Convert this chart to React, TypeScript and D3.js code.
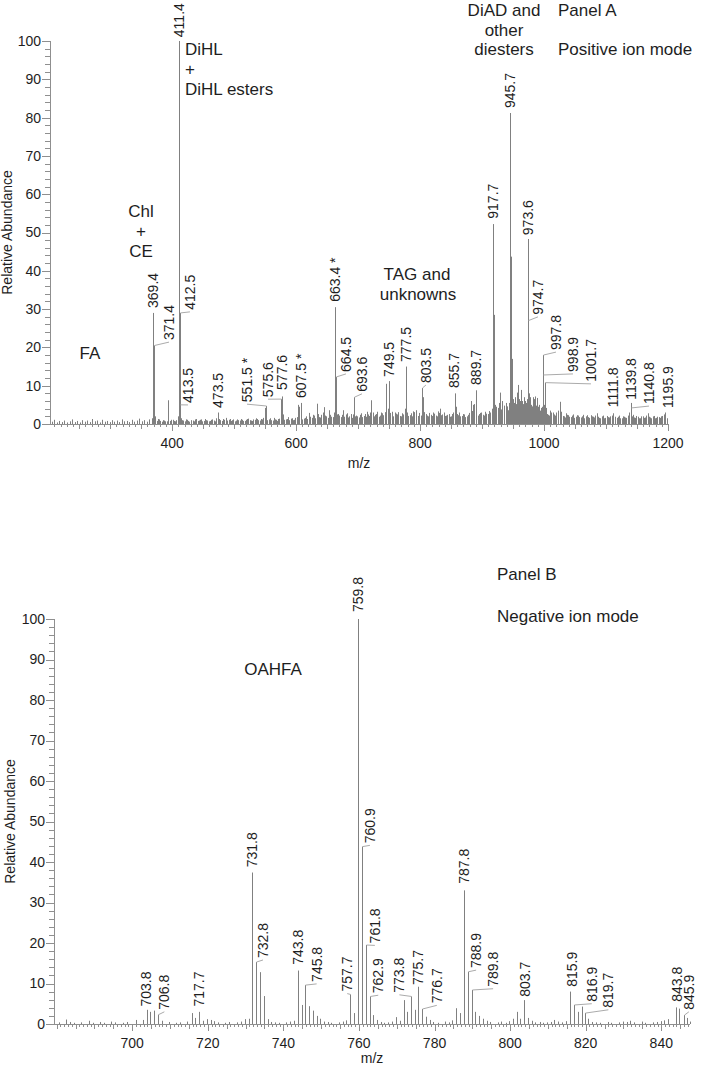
import React from "react";
import * as d3 from "d3";

// ---------- Panel A (positive ion mode) ----------
const peaksA: [number, number][] = [
  [367.4, 1.5], [369.4, 29], [370.4, 6], [371.4, 20.5], [372.4, 2], [393.4, 6.2],
  [409.4, 2], [410.4, 4.7], [411.4, 100], [412.5, 29], [413.5, 5], [414.5, 1.5],
  [471.5, 1.5], [473.5, 3], [549.5, 4.2], [551.5, 4.7], [553.5, 1],
  [575.6, 6.5], [577.6, 7.2], [579.6, 2.5], [603.5, 5], [605.5, 4.5], [607.5, 5.5],
  [661.4, 3], [663.4, 30.5], [664.5, 12.3], [665.5, 2.5], [691.6, 2.5], [693.6, 7], [695.6, 2],
  [749.5, 11.2], [777.5, 15], [803.5, 9.4], [855.7, 8], [889.7, 8.8],
  [917.7, 52.2], [945.7, 81.2], [973.6, 48.3], [974.7, 27],
  [997.8, 18], [998.9, 12.8], [1001.7, 10.8], [1111.8, 2.8], [1139.8, 5.5], [1140.8, 4.2], [1195.9, 3],
];

const minorA: [number, number][] = [
  [206, 0.6], [210, 1.1], [214, 0.4], [218, 0.8], [222, 0.5], [226, 0.9], [231, 0.4], [235, 0.7],
  [239, 1.2], [243, 0.5], [247, 0.8], [251, 0.4], [255, 1.0], [259, 0.6], [263, 0.9], [267, 0.5],
  [271, 1.3], [275, 0.7], [279, 0.9], [283, 0.4], [287, 1.1], [291, 0.6], [295, 0.8], [299, 0.5],
  [303, 1.0], [307, 0.6], [311, 0.9], [315, 0.5], [319, 1.2], [323, 0.7], [327, 0.8], [331, 0.5],
  [335, 1.1], [339, 0.6], [343, 0.9], [347, 1.4], [351, 0.7], [355, 1.0], [359, 0.6], [363, 1.2],
  [377, 1.3], [381, 0.8], [385, 1.0], [389, 0.7], [399, 1.1], [403, 0.8], [407, 1.0],
  [418, 0.9], [422, 1.2], [426, 0.8], [431, 1.0], [435, 0.7], [439, 1.3], [443, 0.9], [447, 1.2],
  [451, 0.8], [455, 1.0], [459, 0.7], [463, 1.1], [467, 0.9], [478, 1.0], [482, 1.3], [487, 1.6],
  [491, 1.1], [495, 0.8], [499, 1.2], [503, 0.9], [507, 1.0], [511, 1.3], [515, 0.8], [519, 1.1],
  [523, 1.4], [527, 0.9], [531, 1.2], [535, 1.5], [539, 1.0], [543, 1.3], [547, 1.6], [556, 1.2],
  [560, 1.0], [564, 1.6], [568, 1.1], [571, 1.3], [583, 1.2], [587, 1.8], [591, 1.4], [595, 1.0],
  [599, 1.6], [612, 1.4], [616, 2.0], [621, 2.9], [625, 1.6], [629, 2.2], [633, 5.3], [637, 1.8],
  [641, 2.4], [645, 4.4], [649, 2.0], [653, 3.6], [657, 1.9], [669, 2.2], [672, 1.8], [676, 3.6],
  [680, 2.5], [684, 1.7], [688, 2.6], [699, 2.0], [703, 2.4], [707, 1.8], [711, 2.6], [714, 3.2],
  [717, 2.1], [719.6, 3.0], [721.6, 6.2], [723.6, 3.0], [727, 2.4], [731, 3.2], [735, 2.2], [739, 2.8],
  [743, 3.1], [745.5, 10.5], [747.5, 4], [752, 2.9], [755, 2.2], [759, 3.0], [763, 2.5], [767, 2.1],
  [771, 2.8], [775.5, 4.0], [779.5, 3.0], [783, 2.3], [787, 2.0], [791, 3.1], [794, 3.6], [797, 2.1],
  [801.5, 2.2], [805.5, 7.0], [809, 2.6], [813, 2.0], [817, 2.4], [821, 3.0], [825, 2.2], [829, 3.3],
  [832, 4.0], [836, 2.5], [840, 2.1], [844, 2.4], [848, 1.9], [851, 2.6], [853.7, 3.0], [857.7, 4.5],
  [861, 2.3], [865, 2.0], [869, 2.6], [873, 1.8], [877, 2.4], [881.6, 6.0], [885.7, 5.0], [887.7, 5.2],
  [893, 2.2], [897, 2.9], [901, 2.4], [905, 3.2], [909, 2.6], [913, 3.0], [915.7, 4.0], [918.7, 28.5],
  [919.7, 8], [922, 3.1], [925, 4.2], [928.9, 8.2], [931.7, 5.0], [935, 4.0], [938, 3.2], [941, 4.6],
  [943.7, 5.5], [946.7, 43.7], [947.7, 17], [949.7, 6.5], [952, 4.0], [955, 5.2], [958, 10.2],
  [960.5, 6], [962.3, 8.9], [965, 6.0], [967.6, 7.0], [970, 4.5], [971.6, 5.5], [975.7, 8],
  [977.6, 6.5], [979, 5], [981.6, 7.0], [984, 6.5], [986, 5.0], [988, 6.8], [991, 4.5], [993, 3.5],
  [995.8, 4.2], [999.9, 5.0], [1003.7, 3.0], [1006, 2.4], [1009, 3.5], [1012, 2.7], [1014, 3.0],
  [1017, 2.2], [1020, 2.6], [1023, 3.5], [1025.7, 5.8], [1028, 2.4], [1032, 2.0], [1035, 2.8],
  [1039, 2.3], [1043, 1.8], [1047, 2.5], [1051, 1.9], [1055, 2.2], [1059, 1.7], [1063, 2.4],
  [1067, 2.0], [1071, 1.8], [1075, 2.3], [1079, 1.9], [1085, 2.8], [1089, 1.6], [1093, 2.0],
  [1097, 1.5], [1101, 2.1], [1105, 1.7], [1109.8, 2.2], [1113.8, 1.9], [1117, 1.6], [1121, 2.2],
  [1125, 1.5], [1129, 1.9], [1133, 1.6], [1137.8, 3.0], [1141.8, 2.0], [1145, 1.7], [1149, 2.1],
  [1153, 1.5], [1157, 2.0], [1161, 1.6], [1165, 2.2], [1167.7, 2.8], [1171, 1.7], [1175, 2.0],
  [1179, 1.5], [1183, 1.9], [1187, 1.6], [1191, 2.1], [1193.9, 2.5], [1197.9, 1.5],
];

const baselineA: [number, number][] = [
  [375, 0.8], [379, 1.2], [383, 0.6], [387, 0.9], [391, 0.7], [397, 0.8], [401, 1.1],
  [405, 0.7], [416, 1.0], [420, 0.7], [424, 1.1], [428, 0.6], [433, 0.9], [437, 1.2], [441, 0.8],
  [445, 1.1], [449, 0.7], [453, 1.3], [457, 0.9], [461, 0.8], [465, 1.2], [469, 0.7], [476, 1.3],
  [480, 0.8], [484, 1.1], [489, 0.9], [493, 1.3], [497, 1.0], [501, 0.7], [505, 1.2], [509, 0.9],
  [513, 1.1], [517, 0.8], [521, 1.3], [525, 1.0], [529, 0.8], [533, 1.1], [537, 1.3], [541, 0.9],
  [545, 1.2], [558, 1.5], [562, 0.9], [566, 1.2], [570, 0.8], [573, 1.4], [581, 1.1], [585, 1.3],
  [589, 1.0], [593, 1.5], [597, 1.1], [601, 1.8], [610, 1.2], [614, 1.6], [618, 1.3], [623, 1.9],
  [627, 2.4], [631, 1.5], [635, 2.6], [639, 1.7], [643, 3.0], [647, 2.2], [651, 1.6], [655, 2.4],
  [659, 1.8], [667, 2.6], [670, 1.5], [674, 2.4], [678, 1.9], [682, 2.8], [686, 2.0], [690, 1.6],
  [697, 2.2], [701, 1.7], [705, 2.8], [709, 2.1], [713, 1.9], [716, 2.5], [725, 2.0], [729, 2.6],
  [733, 1.9], [737, 3.0], [741, 2.3], [751, 2.4], [754, 3.2], [757, 2.0], [761, 2.7], [765, 3.1],
  [769, 2.0], [773, 2.5], [781, 2.1], [785, 2.8], [789, 3.3], [793, 2.2], [799, 2.9], [807, 3.1],
  [811, 2.2], [815, 2.9], [819, 2.1], [823, 2.7], [827, 2.0], [831, 2.9], [834, 2.3], [838, 3.0],
  [842, 2.2], [846, 2.6], [850, 2.0], [859, 2.6], [863, 3.0], [867, 2.1], [871, 2.5], [875, 2.0],
  [879, 2.9], [883, 3.4], [891, 4.2], [895, 2.6], [899, 3.0], [903, 2.2], [907, 2.7], [911, 3.4],
  [920.7, 5.0], [923, 4.5], [927, 5.5], [930, 3.8], [933, 6.0], [936, 4.8], [939, 5.5], [942, 3.6],
  [944.7, 6.0], [948.7, 9.0], [951, 5.5], [953, 7.0], [956, 8.2], [959, 6.5], [961, 5.8], [963.5, 7.5],
  [966, 5.2], [969, 6.0], [972.6, 6.5], [976.7, 5.0], [978, 7.0], [980, 4.6], [983, 5.5], [985, 7.2],
  [987, 4.8], [989, 5.8], [990, 4.0], [992, 5.0], [994, 3.2], [996.8, 4.5], [1000.8, 6.0], [1002.7, 4.2],
  [1005, 2.6], [1008, 2.2], [1011, 3.0], [1016, 2.5], [1019, 3.0], [1022, 2.1], [1027, 3.2], [1030, 2.1],
  [1034, 1.7], [1037, 2.4], [1041, 1.9], [1045, 2.2], [1049, 1.6], [1053, 2.3], [1057, 1.8], [1061, 2.0],
  [1065, 1.5], [1069, 2.3], [1073, 1.6], [1077, 2.0], [1081, 1.7], [1083, 2.2], [1087, 1.9], [1091, 1.5],
  [1095, 2.2], [1099, 1.6], [1103, 1.8], [1107, 2.0], [1115, 1.6], [1119, 1.9], [1123, 1.5], [1127, 2.0],
  [1131, 1.7], [1135, 2.2], [1143, 2.4], [1147, 1.6], [1151, 1.9], [1155, 1.5], [1159, 2.0], [1163, 1.7],
  [1169, 1.9], [1173, 1.5], [1177, 2.1], [1181, 1.6], [1185, 1.8], [1189, 2.0], [1195, 1.7], [1199, 1.2],
];

// [label text, peak m/z, label m/z, label base abundance]
const labelsA: [string, number, number, number][] = [
  ["369.4", 369.4, 369.4, 30.3], ["371.4", 371.4, 395, 21.9], ["411.4", 411.4, 411.4, 101],
  ["412.5", 412.5, 428.8, 29.8], ["413.5", 413.5, 425.6, 5.5], ["473.5", 473.5, 473.5, 4.2],
  ["551.5 *", 551.5, 520.8, 5.7], ["575.6", 575.6, 554.7, 7.0], ["577.6", 577.6, 577.6, 8.9],
  ["607.5 *", 607.5, 607.5, 6.8], ["663.4 *", 663.4, 663.4, 31.9], ["664.5", 664.5, 680.5, 13.6],
  ["693.6", 693.6, 706.3, 8.4], ["749.5", 749.5, 749.5, 12.3], ["777.5", 777.5, 777.5, 16.2],
  ["803.5", 803.5, 809.5, 10.7], ["855.7", 855.7, 855.7, 9.4], ["889.7", 889.7, 889.7, 10.2],
  ["917.7", 917.7, 917.7, 53.6], ["945.7", 945.7, 945.7, 82.5], ["973.6", 973.6, 973.6, 49.3],
  ["974.7", 974.7, 990.2, 28.5], ["997.8", 997.8, 1019.3, 19.3], ["998.9", 998.9, 1046.7, 13.6],
  ["1001.7", 1001.7, 1075.7, 11], ["1111.8", 1111.8, 1111.8, 4.4], ["1139.8", 1139.8, 1139.8, 6.3],
  ["1140.8", 1140.8, 1169.3, 5.2], ["1195.9", 1195.9, 1199.9, 4.2],
];

// ---------- Panel B (negative ion mode) ----------
const peaksB: [number, number][] = [
  [682.6, 1.1], [688.6, 0.8], [694.4, 0.6], [700.9, 1.0], [702.8, 1.0], [703.8, 3.5], [704.8, 3.0],
  [705.8, 3.3], [706.8, 2.3], [707.8, 0.8], [715.7, 2.7], [716.7, 1.5], [717.7, 3], [718.7, 0.8],
  [719.8, 1.2], [720.8, 1], [729.8, 1.2], [730.8, 1.3], [731.8, 37.4], [732.8, 15.3], [733.8, 12.8],
  [734.8, 6.9], [735.8, 1.2], [736.8, 0.5], [743.8, 13.2], [744.8, 4.7], [745.8, 9.6], [746.8, 4.4],
  [747.8, 3.3], [748.8, 2], [749.8, 1.3], [750.8, 0.6], [757.7, 7.3], [758.7, 2.7], [759.8, 100],
  [760.9, 43.8], [761.8, 19.5], [762.9, 6.8], [763.8, 2.2], [764.8, 1], [769.8, 1.7], [770.8, 0.8],
  [771.8, 5.9], [772.8, 3], [773.8, 6.8], [774.8, 3.5], [775.7, 9.2], [776.7, 3.7], [777.7, 1.8],
  [778.7, 1], [785.7, 3.9], [786.7, 2.7], [787.8, 33], [788.9, 12.9], [789.8, 8.4], [790.8, 3],
  [791.8, 2], [792.8, 1.3], [793.8, 0.8], [800.7, 1.3], [801.7, 3], [802.7, 1.3], [803.7, 5.9],
  [804.7, 1.5], [805.7, 0.8], [815.9, 8], [816.9, 4.7], [817.9, 3], [818.9, 4.3], [819.7, 2.7],
  [820.7, 1.3], [821.7, 0.5], [841.8, 1.2], [843.8, 4.1], [844.8, 3.8], [845.9, 2.2], [846.9, 1.5],
];

const minorB: [number, number][] = [
  [680.5, 0.4], [683.6, 0.5], [684.6, 0.3], [686.5, 0.4], [689.6, 0.3], [691.5, 0.5], [692.6, 0.3],
  [695.5, 0.4], [697.6, 0.3], [698.5, 0.5], [709.8, 0.5], [711.5, 0.3], [712.7, 0.4], [714.6, 0.6],
  [721.7, 0.7], [722.7, 0.4], [724.6, 0.3], [725.7, 0.5], [727.6, 0.4], [728.7, 0.6], [737.8, 0.4],
  [738.8, 0.3], [740.7, 0.4], [741.7, 0.6], [742.8, 0.8], [751.8, 0.5], [752.7, 0.3], [754.6, 0.4],
  [755.7, 0.6], [756.7, 0.9], [765.8, 0.5], [766.7, 0.3], [767.8, 0.4], [768.8, 0.6], [779.7, 0.5],
  [780.8, 0.3], [782.7, 0.6], [783.8, 0.4], [784.7, 0.9], [794.8, 0.5], [796.8, 0.4], [797.7, 0.6],
  [798.8, 0.3], [799.7, 0.7], [806.7, 0.4], [807.8, 0.5], [808.7, 0.3], [809.8, 0.4], [810.7, 0.5],
  [811.7, 1.0], [812.7, 0.6], [813.8, 0.4], [814.8, 0.7], [822.8, 0.4], [823.7, 0.3], [825.8, 0.5],
  [826.7, 0.3], [828.8, 0.4], [829.8, 0.6], [830.8, 0.5], [831.8, 0.8], [832.8, 0.4], [834.8, 0.6],
  [835.8, 0.3], [837.8, 0.4], [838.8, 0.5], [839.8, 0.7], [840.8, 0.9], [847.5, 0.6],
];

const labelsB: [string, number, number, number][] = [
  ["703.8", 703.8, 703.8, 4.3], ["706.8", 706.8, 708.5, 3.5], ["717.7", 717.7, 717.7, 4.3],
  ["731.8", 731.8, 731.8, 38.7], ["732.8", 732.8, 734.6, 16.3], ["743.8", 743.8, 743.8, 14.6],
  ["745.8", 745.8, 748.8, 10.4], ["757.7", 757.7, 756.9, 8.0], ["759.8", 759.8, 759.8, 101.7],
  ["760.9", 760.9, 762.9, 44.6], ["761.8", 761.8, 764.2, 19.9], ["762.9", 762.9, 765.1, 7.6],
  ["773.8", 773.8, 770.7, 7.7], ["775.7", 775.7, 775.7, 9.6], ["776.7", 776.7, 780.6, 5.1],
  ["787.8", 787.8, 787.8, 34.6], ["788.9", 788.9, 791, 13.8], ["789.8", 789.8, 795.5, 9.2],
  ["803.7", 803.7, 803.9, 6.7], ["815.9", 815.9, 816.3, 9.2], ["816.9", 816.9, 821.6, 5.5],
  ["819.7", 819.7, 826, 4.0], ["843.8", 843.8, 844.2, 5.5], ["845.9", 845.9, 847.3, 3.5],
];

const yTicks = [0, 10, 20, 30, 40, 50, 60, 70, 80, 90, 100];
const xTicksA = [400, 600, 800, 1000, 1200];
const xTicksB = [700, 720, 740, 760, 780, 800, 820, 840];

const FONT = "Arial, 'Liberation Sans', Helvetica, sans-serif";
const PEAK = "#808080";
const AXIS = "#8f8f8f";
const TEXT = "#1e1e1e";
const LEADER = "#ababab";

type PanelProps = {
  x: d3.ScaleLinear<number, number>;
  y: d3.ScaleLinear<number, number>;
  peaks: [number, number][];
  minor: [number, number][];
  labels: [string, number, number, number][];
  xTicks: number[];
  minorStep: number;
  midStep: number;
  xLabelY: number;
  mzY: number;
  yTitleX: number;
};

function Panel({ x, y, peaks, minor, labels, xTicks, minorStep, midStep, xLabelY, mzY, yTitleX }: PanelProps) {
  const [x0, x1] = x.domain();
  const [r0, r1] = x.range();
  const y0 = y(0);
  const all = [...minor, ...peaks];
  const heightOf = (mz: number) => {
    const p = peaks.find((d) => d[0] === mz);
    return p ? p[1] : 0;
  };
  const minorTicks: number[] = [];
  for (let v = Math.ceil(x0 / minorStep) * minorStep; v <= x1 + 1e-9; v += minorStep) minorTicks.push(+v.toFixed(4));
  const yMinor: number[] = [];
  for (let v = 0; v <= 100; v += 2) yMinor.push(v);
  const px = (v: number) => Math.round(x(v)) + 0.5;
  return (
    <g>
      {all.map(([mz, h], i) => (
        <line key={"p" + i} x1={px(mz)} x2={px(mz)} y1={y0} y2={y(h)} stroke={PEAK} strokeWidth={1} />
      ))}
      <line x1={r0 + 0.5} x2={r0 + 0.5} y1={y(100)} y2={y0} stroke={AXIS} />
      <line x1={r0} x2={r1} y1={y0 + 0.5} y2={y0 + 0.5} stroke={AXIS} />
      {yMinor.map((v) => (
        <line key={"ym" + v} x1={r0 - (v % 10 === 0 ? 8 : 5)} x2={r0} y1={Math.round(y(v)) + 0.5} y2={Math.round(y(v)) + 0.5} stroke={AXIS} />
      ))}
      {yTicks.map((v) => (
        <text key={"yt" + v} x={r0 - 9} y={y(v)} dy="0.35em" textAnchor="end" fontSize={14} fill={TEXT} fontFamily={FONT}>
          {v}
        </text>
      ))}
      {minorTicks.map((v) => {
        const isMajor = xTicks.includes(v);
        const isMid = Math.abs(v / midStep - Math.round(v / midStep)) < 1e-6;
        const len = isMajor ? 7 : isMid ? 5 : 3;
        return <line key={"xm" + v} x1={px(v)} x2={px(v)} y1={y0} y2={y0 + len} stroke={AXIS} />;
      })}
      {xTicks.map((v) => (
        <text key={"xt" + v} x={x(v)} y={xLabelY} textAnchor="middle" fontSize={14} fill={TEXT} fontFamily={FONT}>
          {v}
        </text>
      ))}
      <text x={(r0 + r1) / 2} y={mzY} textAnchor="middle" fontSize={14} fill={TEXT} fontFamily={FONT}>
        m/z
      </text>
      <text transform={`translate(${yTitleX},${(y(0) + y(100)) / 2}) rotate(-90)`} textAnchor="middle" fontSize={14} fill={TEXT} fontFamily={FONT}>
        Relative Abundance
      </text>
      {labels.map(([t, mz, lmz, lab], i) => {
        const ptx = px(mz);
        const pty = y(heightOf(mz));
        const lx = x(lmz);
        const ly = y(lab);
        const leader = Math.abs(lx - ptx) > 2.5;
        return (
          <g key={"l" + i}>
            {leader && <line x1={ptx} y1={pty} x2={lx} y2={ly + 2} stroke={LEADER} strokeWidth={1} />}
            <text transform={`translate(${lx},${ly}) rotate(-90)`} dy="0.35em" fontSize={14} fill={TEXT} fontFamily={FONT}>
              {t}
            </text>
          </g>
        );
      })}
    </g>
  );
}

export default function App() {
  const xA = d3.scaleLinear().domain([203, 1200]).range([50, 668]);
  const yA = d3.scaleLinear().domain([0, 100]).range([424, 41]);
  const xB = d3.scaleLinear().domain([679.3, 847.6]).range([54, 690]);
  const yB = d3.scaleLinear().domain([0, 100]).range([1024, 619]);
  const note = { fontSize: 17, fill: TEXT, fontFamily: FONT } as const;
  return (
    <div style={{ position: "absolute", left: 0, top: 0 }}>
      <svg width={702} height={1067} style={{ display: "block", background: "#fff" }}>
        <rect width={702} height={1067} fill="#fff" />
        <Panel x={xA} y={yA} peaks={peaksA} minor={[...minorA, ...baselineA]} labels={labelsA} xTicks={xTicksA}
          minorStep={10} midStep={50} xLabelY={448} mzY={468} yTitleX={12} />
        <Panel x={xB} y={yB} peaks={peaksB} minor={minorB} labels={labelsB} xTicks={xTicksB}
          minorStep={1} midStep={5} xLabelY={1048} mzY={1063} yTitleX={15} />
        <text x={185} y={55} {...note}>DiHL</text>
        <text x={185} y={75} {...note}>+</text>
        <text x={185} y={95} {...note}>DiHL esters</text>
        <text x={504} y={16} textAnchor="middle" {...note}>DiAD and</text>
        <text x={504} y={36} textAnchor="middle" {...note}>other</text>
        <text x={504} y={55} textAnchor="middle" {...note}>diesters</text>
        <text x={558} y={16} {...note}>Panel A</text>
        <text x={558} y={55} {...note}>Positive ion mode</text>
        <text x={141} y={217} textAnchor="middle" {...note}>Chl</text>
        <text x={141} y={237} textAnchor="middle" {...note}>+</text>
        <text x={141} y={257} textAnchor="middle" {...note}>CE</text>
        <text x={90} y={359} textAnchor="middle" {...note}>FA</text>
        <text x={417} y={280} textAnchor="middle" {...note}>TAG and</text>
        <text x={418} y={300} textAnchor="middle" {...note}>unknowns</text>
        <text x={497} y={580} {...note}>Panel B</text>
        <text x={497} y={622} {...note}>Negative ion mode</text>
        <text x={273} y={675} textAnchor="middle" {...note}>OAHFA</text>
      </svg>
    </div>
  );
}
